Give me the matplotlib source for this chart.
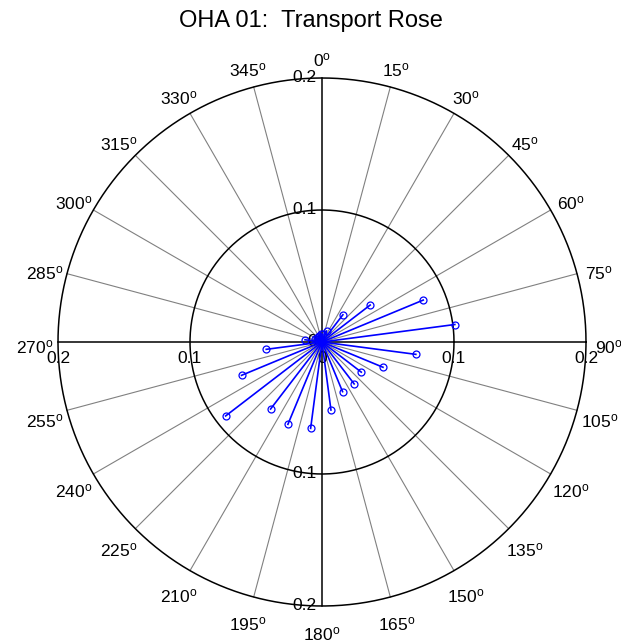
import numpy as np
import matplotlib
matplotlib.use("Agg")
import matplotlib.pyplot as plt

plt.rcParams['font.family'] = ['Liberation Sans', 'DejaVu Sans']
plt.rcParams['mathtext.default'] = 'regular'

# transport per direction (compass degrees, clockwise from north)
directions = [7.5, 22.5, 37.5, 52.5, 67.5, 82.5, 97.5, 112.5, 127.5, 142.5, 157.5, 172.5,
              187.5, 202.5, 217.5, 232.5, 247.5, 262.5, 277.5, 292.5, 307.5, 322.5, 337.5, 352.5]
transport = [0.006, 0.009, 0.026, 0.046, 0.083, 0.1015, 0.0717, 0.050, 0.0375, 0.040, 0.0407, 0.052,
             0.066, 0.0675, 0.064, 0.092, 0.066, 0.0426, 0.013, 0.006, 0.005, 0.005, 0.005, 0.006]

ring_values = [0.1, 0.2]
spoke_angles = list(range(0, 360, 15))
radial_labels = ['0.2', '0.1', '0', '0.1', '0.2']
radial_pos = [-0.2, -0.1, 0.0, 0.1, 0.2]
title = 'OHA 01:  Transport Rose'

W, H = 621, 643
fig = plt.figure(figsize=(W / 100, H / 100), dpi=100)
ax = fig.add_axes([0, 0, 1, 1])
cx, cy, scale = 322, 342, 1320.0
ax.set_xlim(-cx / scale, (W - cx) / scale)
ax.set_ylim(-(H - cy) / scale, cy / scale)
ax.axis('off')

rmax = max(ring_values)
t = np.linspace(0, 2 * np.pi, 400)
for r in ring_values:
    ax.plot(r * np.cos(t), r * np.sin(t), color='black', lw=1.1, zorder=2)

for a in spoke_angles:
    th = np.deg2rad(a)
    x, y = rmax * np.sin(th), rmax * np.cos(th)
    if a % 90 == 0:
        ax.plot([0, x], [0, y], color='black', lw=1.1, zorder=2)
    else:
        ax.plot([0, x], [0, y], color='#808080', lw=0.8, zorder=1)
    lx, ly = 1.0875 * rmax * np.sin(th), 1.0875 * rmax * np.cos(th) - 0.004
    ax.text(lx, ly, f'{a}$^o$', ha='center', va='center', fontsize=12.5)

# radial labels
for lab, p in zip(radial_labels, radial_pos):
    ax.text(-0.004, p, lab, ha='right', va='center', fontsize=12.5)
    ax.text(p, -0.0125, lab, ha='center', va='center', fontsize=12.5)

for d, v in zip(directions, transport):
    th = np.deg2rad(d)
    x, y = v * np.sin(th), v * np.cos(th)
    ax.plot([0, x], [0, y], color='blue', lw=1.2, zorder=3)
    ax.plot(x, y, 'o', mfc='none', mec='blue', ms=5, mew=0.9, zorder=4)

fig.text(0.5, 1 - 27 / H, title, ha='center', va='baseline', fontsize=17)

fig.savefig('out.png', dpi=100)
